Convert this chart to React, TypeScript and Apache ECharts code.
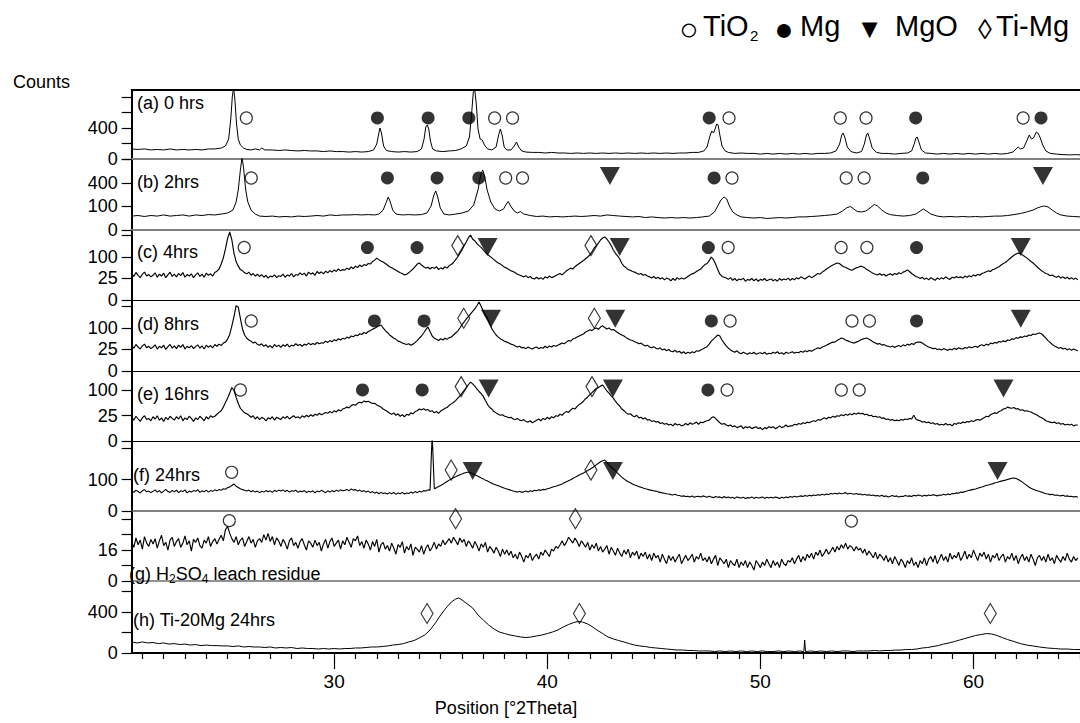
import React, { useEffect, useRef } from "react";
import * as echarts from "echarts";

const FONT = '"Liberation Sans", Arial, Helvetica, sans-serif';
const X_MIN = 20.5;
const X_MAX = 65;
const SCAN_START = 20.5; // first 2theta of the evenly stepped scans
const SCAN_STEP = 0.1;

// panel layout (top, height) a..h
const panelTops = [90, 159, 230, 300, 371, 441, 511, 581];
const panelHeights = [69, 71, 70, 71, 70, 70, 70, 72];
// counts at the top edge of each panel (square-root intensity scale)
const panelMaxCounts = [1980, 912, 265, 272, 192, 494, 82, 1233];
const yTickCounts = [
  [0, 100, 400, 900, 1600],
  [0, 100, 400, 900],
  [0, 25, 100, 225],
  [0, 25, 100, 225],
  [0, 25, 100],
  [0, 100, 400],
  [0, 4, 16, 36, 64],
  [0, 100, 400, 900],
];
const yLabelCounts = [
  [0, 400],
  [0, 100, 400],
  [0, 25, 100],
  [0, 25, 100],
  [0, 25, 100],
  [0, 100],
  [0, 16],
  [0, 400],
];
const xMajorTicks = [30, 40, 50, 60];
const xMinorTicks = [21,22,23,24,25,26,27,28,29,31,32,33,34,35,36,37,38,39,41,42,43,44,45,46,47,48,49,51,52,53,54,55,56,57,58,59,61,62,63,64,65];

const panelLabels = ["(a) 0 hrs", "(b) 2hrs", "(c) 4hrs", "(d) 8hrs", "(e) 16hrs", "(f) 24hrs", "", "(h) Ti-20Mg 24hrs"];

type P = [number, number];

// (a) 0 hrs and (b) 2hrs: [2theta, counts]
const traceA: P[] = [[20.5,42],[20.8,38],[21.1,42],[21.4,34],[21.7,38],[22.0,34],[22.3,42],[22.6,34],[22.9,38],[23.2,34],[23.5,38],[23.8,34],[24.1,42],[24.4,42],[24.7,50],[24.9,70],[25.05,166],[25.15,666],[25.22,1600],[25.28,2100],[25.34,1498],[25.42,510],[25.5,166],[25.6,82],[25.75,50],[25.9,38],[26.1,34],[26.3,42],[26.5,34],[26.6,50],[26.75,34],[27.1,34],[27.4,30],[27.7,34],[28.0,30],[28.3,27],[28.6,30],[28.9,27],[29.2,27],[29.5,23],[29.8,27],[30.1,23],[30.4,23],[30.7,20],[31.0,23],[31.3,20],[31.6,23],[31.85,34],[32.0,94],[32.1,281],[32.15,400],[32.22,281],[32.32,70],[32.45,30],[32.7,23],[33.0,20],[33.3,23],[33.6,20],[33.9,23],[34.1,42],[34.22,166],[34.3,426],[34.37,481],[34.44,375],[34.52,135],[34.62,42],[34.8,27],[35.1,23],[35.4,27],[35.7,30],[35.95,42],[36.2,70],[36.35,201],[36.45,843],[36.53,1868],[36.6,1981],[36.67,1259],[36.75,375],[36.85,166],[36.95,150],[37.05,82],[37.2,42],[37.4,34],[37.6,60],[37.72,240],[37.8,375],[37.88,240],[37.98,60],[38.1,34],[38.3,34],[38.45,70],[38.56,120],[38.66,60],[38.8,27],[39.0,20],[39.3,18],[39.6,18],[39.9,15],[40.2,18],[40.5,15],[40.8,15],[41.1,13],[41.4,15],[41.7,13],[42.0,15],[42.3,13],[42.6,15],[42.9,13],[43.2,15],[43.5,13],[43.8,15],[44.1,13],[44.4,15],[44.7,13],[45.0,15],[45.3,13],[45.6,15],[45.9,13],[46.2,15],[46.5,15],[46.8,18],[47.1,18],[47.35,27],[47.5,60],[47.62,201],[47.72,326],[47.8,281],[47.88,375],[47.95,510],[48.02,481],[48.1,240],[48.2,70],[48.35,27],[48.5,18],[48.8,13],[49.1,15],[49.4,13],[49.7,13],[50.0,10],[50.3,13],[50.6,10],[50.9,13],[51.2,10],[51.5,13],[51.8,10],[52.1,13],[52.4,10],[52.7,13],[53.0,13],[53.3,15],[53.55,27],[53.72,94],[53.82,240],[53.88,281],[53.96,201],[54.08,60],[54.25,23],[54.5,15],[54.75,23],[54.88,94],[54.98,240],[55.04,281],[55.12,184],[55.25,50],[55.45,18],[55.7,13],[56.0,13],[56.3,10],[56.6,13],[56.9,15],[57.1,27],[57.22,94],[57.3,184],[57.36,201],[57.44,120],[57.56,34],[57.75,15],[58.0,13],[58.3,10],[58.6,13],[58.9,10],[59.2,13],[59.5,10],[59.8,13],[60.1,10],[60.4,13],[60.7,10],[61.0,13],[61.3,10],[61.6,13],[61.85,20],[62.0,42],[62.1,60],[62.2,42],[62.35,50],[62.5,135],[62.62,240],[62.72,166],[62.82,184],[62.95,303],[63.02,281],[63.12,201],[63.25,82],[63.4,27],[63.6,13],[63.9,10],[64.2,8],[64.5,7],[64.8,8],[65.0,7]];

const traceB: P[] = [[20.5,35],[20.8,38],[21.1,33],[21.4,38],[21.7,35],[22.0,41],[22.3,35],[22.6,38],[22.9,41],[23.2,35],[23.5,41],[23.8,38],[24.1,43],[24.4,41],[24.7,46],[25.0,52],[25.25,72],[25.4,142],[25.5,290],[25.6,652],[25.68,960],[25.75,696],[25.85,290],[25.95,142],[26.1,72],[26.3,46],[26.5,35],[26.8,33],[27.1,35],[27.4,31],[27.7,33],[28.0,31],[28.3,35],[28.6,33],[28.9,35],[29.2,38],[29.5,35],[29.8,41],[30.1,38],[30.4,41],[30.7,41],[31.0,43],[31.3,41],[31.6,43],[31.9,41],[32.1,46],[32.3,72],[32.45,142],[32.54,197],[32.62,152],[32.75,72],[32.9,46],[33.2,41],[33.5,43],[33.8,41],[34.1,43],[34.35,52],[34.55,104],[34.68,222],[34.77,275],[34.86,197],[34.98,88],[35.15,46],[35.4,41],[35.7,46],[36.0,52],[36.3,65],[36.55,113],[36.75,290],[36.88,548],[36.97,652],[37.06,528],[37.18,290],[37.35,142],[37.55,80],[37.75,65],[37.95,80],[38.08,122],[38.17,147],[38.28,104],[38.45,65],[38.6,52],[38.74,62],[38.9,46],[39.2,38],[39.5,33],[39.8,35],[40.1,31],[40.4,33],[40.7,31],[41.0,33],[41.3,35],[41.6,33],[41.9,35],[42.2,38],[42.5,35],[42.8,41],[43.1,38],[43.4,35],[43.7,33],[44.0,31],[44.3,33],[44.6,28],[44.9,31],[45.2,28],[45.5,26],[45.8,28],[46.1,26],[46.4,28],[46.7,26],[47.0,28],[47.3,31],[47.6,35],[47.85,59],[48.0,104],[48.15,163],[48.3,197],[48.42,174],[48.55,104],[48.7,59],[48.9,41],[49.1,31],[49.4,28],[49.7,26],[50.0,28],[50.3,24],[50.6,26],[50.9,28],[51.2,26],[51.5,28],[51.8,31],[52.1,31],[52.4,33],[52.7,35],[53.0,38],[53.3,41],[53.6,46],[53.85,65],[54.05,88],[54.22,100],[54.38,80],[54.55,62],[54.75,59],[54.95,65],[55.15,88],[55.35,118],[55.5,104],[55.7,72],[55.9,52],[56.1,43],[56.4,38],[56.7,35],[57.0,38],[57.3,46],[57.5,65],[57.65,80],[57.8,65],[58.0,46],[58.3,35],[58.6,31],[58.9,33],[59.2,31],[59.5,33],[59.8,31],[60.1,33],[60.4,31],[60.7,33],[61.0,35],[61.3,35],[61.6,38],[61.9,43],[62.2,49],[62.5,59],[62.8,72],[63.0,88],[63.2,100],[63.35,104],[63.5,96],[63.7,72],[63.9,52],[64.1,41],[64.4,35],[64.7,33],[65.0,31]];

// (c)..(g): counts on an even 0.1 deg step starting at 20.5 deg
const countsC = [
38,30,41,33,27,36,42,31,35,29,
33,40,28,36,31,39,27,34,42,30,
36,29,38,32,41,28,35,31,37,27,
34,40,30,36,28,39,33,37,31,41,
45,52,70,96,142,205,250,196,118,80,
62,50,46,40,37,42,33,38,31,36,
30,35,28,33,26,31,29,34,27,32,
30,36,28,34,31,38,29,35,33,40,
34,39,31,42,36,40,33,44,38,43,
37,45,40,47,42,49,44,52,46,50,
48,55,50,59,53,62,57,66,60,68,
64,72,70,80,86,95,88,82,78,72,
66,60,56,52,48,44,40,38,34,36,
40,46,52,60,70,74,66,60,55,58,
52,58,54,60,50,56,52,60,55,64,
68,76,88,100,118,135,160,182,210,228,
200,190,172,160,150,136,122,112,104,96,
88,80,74,70,64,58,55,50,46,44,
40,36,34,31,29,32,27,30,25,24,
28,24,27,23,29,26,31,27,29,32,
35,38,34,40,46,50,55,52,60,66,
72,78,84,92,100,110,126,146,160,175,
195,208,215,200,182,160,135,118,105,92,
72,62,56,50,48,44,42,39,36,38,
33,35,31,29,26,30,25,28,24,27,
22,26,24,20,25,21,27,23,26,24,
26,30,34,37,39,44,48,52,60,68,
72,84,100,88,70,50,36,30,28,26,
23,27,21,25,20,24,22,26,19,23,
21,25,20,24,19,23,21,25,20,22,
24,20,23,19,25,21,24,22,26,21,
25,22,27,24,29,26,24,28,31,27,
30,34,38,36,42,46,52,56,62,66,
70,74,72,66,60,58,54,50,48,52,
56,58,62,60,56,50,46,42,38,36,
34,38,33,36,31,35,37,33,38,35,
40,37,42,45,49,44,38,34,30,28,
25,28,23,26,22,27,24,21,26,23,
27,24,29,25,23,28,26,30,27,29,
26,31,28,32,29,34,31,36,33,38,
40,43,46,44,50,52,56,60,66,72,
76,84,92,100,108,114,119,116,110,102,
96,88,80,74,66,58,52,46,42,38,
36,32,34,30,28,31,26,29,25,28,
24,27,23,26,22];

const countsD = [
35,28,38,31,26,34,39,29,33,27,
31,37,26,33,29,36,25,32,38,28,
34,27,36,30,38,26,33,29,35,27,
32,37,28,34,26,36,30,35,29,38,
33,39,35,42,45,55,72,110,160,230,
220,150,95,70,58,52,48,42,45,38,
36,40,33,37,30,35,29,38,32,36,
30,37,33,39,31,36,34,40,35,38,
33,39,36,42,37,41,38,44,40,43,
42,48,44,50,46,53,49,56,52,58,
55,62,58,66,63,70,67,75,72,80,
76,84,88,94,98,104,110,114,100,88,
80,70,64,58,54,48,46,42,40,38,
40,36,39,44,50,58,66,78,92,105,
84,66,58,54,50,56,52,58,54,60,
62,70,78,86,100,116,130,146,160,176,
192,208,230,257,225,195,170,146,120,96,
82,70,62,56,52,48,45,42,39,37,
34,31,33,29,30,27,31,28,26,29,
31,27,30,28,33,29,34,31,35,33,
36,39,42,40,45,50,48,55,58,62,
66,70,74,82,86,92,88,96,100,94,
104,110,102,95,100,91,93,86,80,74,
70,66,60,56,52,50,46,44,40,42,
37,34,36,31,29,32,28,26,29,24,
26,22,25,21,20,23,19,21,17,20,
16,19,17,20,18,22,21,24,26,29,
32,39,48,55,62,70,66,52,42,34,
28,24,21,19,22,18,16,19,17,15,
18,16,19,15,17,18,16,19,15,17,
16,19,17,20,16,18,15,19,17,18,
20,17,19,18,21,19,22,20,23,21,
24,26,29,27,31,33,36,39,42,45,
45,50,54,59,56,52,49,46,44,42,
45,48,52,55,57,59,54,50,45,42,
39,41,36,38,34,33,31,34,30,33,
35,32,37,34,39,36,41,38,44,45,
45,42,38,34,31,29,27,28,25,26,
24,27,25,23,26,24,28,25,29,27,
26,30,28,32,29,31,33,30,35,37,
34,39,36,42,40,44,42,47,45,49,
46,52,50,56,54,60,58,63,61,66,
64,70,68,74,72,76,78,74,66,58,
50,44,38,34,31,28,30,26,28,24,
27,23,26,24,22];

const countsE = [
22,17,24,19,15,21,25,18,20,16,
23,19,25,17,21,15,22,18,24,20,
17,23,19,25,16,21,18,24,20,15,
21,18,24,20,16,23,19,25,22,24,
28,32,36,45,58,72,90,112,100,75,
55,42,36,31,29,26,22,25,19,23,
18,22,20,16,21,19,23,17,22,20,
18,23,20,24,19,22,25,21,23,20,
25,22,26,23,27,24,28,26,30,27,
29,32,30,34,31,36,33,38,35,40,
42,45,43,49,52,50,56,59,57,63,
60,62,58,55,56,51,48,45,40,37,
34,30,28,31,26,29,24,27,23,28,
26,31,29,34,36,40,38,41,37,39,
34,36,31,34,30,35,38,42,44,50,
54,58,64,72,80,90,100,112,124,136,
128,118,106,96,88,78,64,52,44,40,
34,31,28,26,27,24,23,21,22,19,
18,20,17,16,18,15,14,16,13,15,
17,19,16,20,18,22,19,23,21,25,
24,28,26,31,34,32,38,42,40,47,
52,56,62,70,76,84,92,100,108,112,
118,123,110,98,90,80,72,62,54,48,
40,36,31,28,29,25,23,26,21,22,
19,21,17,18,15,16,14,15,12,13,
11,12,10,11,9,12,10,11,9,10,
12,10,13,11,12,14,11,14,13,15,
16,17,21,23,20,16,13,11,12,10,
9,10,8,9,7,8,9,6,8,7,
8,6,7,8,6,7,5,7,6,8,
7,8,6,7,9,7,8,10,8,9,
9,11,10,12,11,13,12,14,13,15,
16,15,18,17,19,21,19,22,21,24,
22,25,24,27,25,28,26,29,27,30,
28,31,29,30,27,28,25,26,23,24,
22,23,20,21,18,19,17,18,16,17,
16,18,17,19,18,20,19,26,19,17,
16,14,15,13,14,12,13,11,12,10,
11,10,12,10,11,9,12,11,13,12,
14,13,15,14,16,15,17,18,17,19,
21,24,23,27,29,31,30,34,36,40,
41,45,43,42,44,40,41,37,38,35,
36,34,33,30,28,26,23,21,19,16,
15,14,13,14,12,13,11,12,10,11,
10,11,9,10,10];

const countsF = [
42,35,44,38,33,41,46,37,40,34,
39,45,36,42,33,40,47,38,35,43,
37,44,34,41,38,45,33,40,36,42,
39,46,35,41,37,44,36,42,39,45,
41,47,43,50,48,55,58,66,73,62,
56,50,46,43,40,44,37,42,36,40,
34,39,36,42,37,41,35,43,38,44,
40,45,38,43,36,41,39,44,35,40,
37,42,34,39,36,41,33,40,37,43,
38,34,41,36,42,37,44,39,45,41,
43,47,41,49,44,46,40,44,38,42,
36,40,34,38,32,36,30,35,31,33,
29,34,30,35,28,33,30,35,29,33,
31,36,32,38,34,39,36,42,40,45,
44,600,50,55,60,66,72,80,88,96,
104,112,118,125,132,138,145,150,153,148,
140,132,126,118,110,104,96,90,84,78,
72,68,64,60,56,52,49,46,43,40,
38,36,39,35,37,40,36,41,38,43,
41,45,43,47,46,50,52,56,59,62,
66,70,74,80,86,92,98,106,114,122,
130,138,146,155,165,175,186,200,215,230,
245,255,262,240,215,195,178,162,145,130,
116,104,94,86,80,74,68,64,60,57,
53,50,48,45,43,41,40,37,35,33,
32,30,29,27,26,28,25,24,22,23,
21,22,20,23,19,21,22,20,23,21,
19,22,20,18,21,19,20,17,21,18,
20,17,19,16,20,18,17,19,16,18,
17,20,16,19,17,18,20,16,19,17,
19,17,20,18,16,19,17,20,18,21,
19,22,20,21,23,21,24,22,25,23,
26,24,27,25,28,26,29,27,31,29,
32,29,33,30,31,34,29,32,30,28,
31,28,29,26,28,25,27,24,26,23,
24,22,25,21,23,20,22,24,21,23,
20,22,21,24,22,23,21,25,23,26,
24,22,25,23,26,24,27,25,23,26,
25,28,26,29,27,31,30,33,32,36,
35,38,40,43,45,47,49,52,56,58,
62,66,68,72,74,80,82,86,90,93,
96,100,104,108,110,106,100,92,84,74,
66,58,52,48,44,41,38,36,33,30,
29,27,28,25,26,24,23,25,22,23,
21,22,20,21,19];

const countsG = [
26,19,31,22,28,17,33,24,20,29,
23,30,18,27,35,21,25,16,28,32,
20,26,30,19,24,34,22,27,15,29,
25,31,21,18,28,24,33,20,26,30,
23,29,35,27,44,50,38,30,25,33,
22,28,31,20,26,33,24,29,19,27,
30,25,36,28,38,26,33,22,31,27,
20,29,24,17,27,31,21,25,18,26,
30,22,16,27,24,19,28,21,25,15,
23,29,18,26,31,20,24,28,17,27,
22,32,25,19,30,27,34,21,26,18,
28,23,16,26,20,29,14,22,25,17,
21,15,24,18,12,22,19,26,13,20,
16,23,11,19,17,14,21,12,18,22,
15,19,25,17,23,20,28,22,26,30,
24,32,27,22,31,25,29,20,27,23,
18,26,21,15,23,19,25,14,20,17,
13,19,15,10,17,12,16,11,15,9,
12,8,14,10,6,11,9,13,7,10,
12,8,14,11,16,13,10,17,15,20,
18,22,27,21,25,32,28,24,31,26,
20,27,23,19,25,16,22,18,24,15,
20,14,17,21,12,19,15,11,18,13,
10,16,12,17,9,14,11,15,8,13,
10,14,8,12,7,13,9,11,6,12,
8,5,11,7,10,6,9,12,5,8,
11,7,9,12,6,10,8,13,7,9,
6,10,5,8,11,4,9,7,5,8,
3,7,5,4,8,3,6,4,7,3,
6,4,2,7,5,3,6,4,8,5,
3,7,4,6,3,8,5,4,7,6,
9,5,8,11,6,10,7,12,9,13,
8,14,11,16,10,13,17,12,15,19,
14,20,16,22,18,24,17,21,19,15,
20,16,18,13,17,11,15,12,9,14,
8,12,10,7,11,6,9,5,10,7,
4,8,6,3,7,5,9,4,6,3,
7,5,9,4,8,10,6,11,5,8,
12,7,10,6,13,8,11,9,14,7,
10,15,8,12,9,16,11,7,13,10,
14,8,12,6,11,9,13,7,10,12,
6,10,8,13,7,11,5,9,12,7,
10,6,12,8,4,9,11,7,10,6,
12,7,9,5,11,8,6,10,7,13,
8,6,10,7,9];

// (h) Ti-20Mg 24hrs: [2theta, counts]
const traceH: P[] = [[20.5,29],[20.75,24],[21.0,29],[21.25,24],[21.5,26],[21.75,21],[22.0,24],[22.25,19],[22.5,21],[22.75,17],[23.0,19],[23.25,15],[23.5,17],[23.75,13],[24.0,15],[24.25,13],[24.5,13],[24.75,12],[25.0,12],[25.25,10],[25.5,12],[25.75,8.6],[26.0,10],[26.25,8.6],[26.5,8.6],[26.75,7.2],[27.0,8.6],[27.25,6],[27.5,7.2],[27.75,6],[28.0,7.2],[28.25,4.8],[28.5,6],[28.75,4.8],[29.0,4.8],[29.25,3.8],[29.5,4.8],[29.75,3.8],[30.0,4.8],[30.25,3.8],[30.5,4.8],[30.75,4.8],[31.0,6],[31.25,6],[31.5,7.2],[31.75,8.6],[32.0,8.6],[32.25,10],[32.5,11.7],[32.75,15],[33.0,17],[33.25,21],[33.5,29],[33.75,37],[34.0,54],[34.25,77],[34.5,126],[34.75,214],[35.0,344],[35.25,482],[35.5,619],[35.7,694],[35.85,720],[36.0,669],[36.25,571],[36.5,482],[36.75,344],[37.0,259],[37.25,187],[37.5,137],[37.75,105],[38.0,90],[38.25,77],[38.5,69],[38.75,61],[39.0,57],[39.25,61],[39.5,69],[39.75,77],[40.0,90],[40.25,105],[40.5,126],[40.75,161],[41.0,193],[41.25,221],[41.45,236],[41.65,229],[41.9,200],[42.1,167],[42.33,126],[42.6,90],[42.85,61],[43.1,47],[43.35,37],[43.6,29],[43.85,21],[44.1,15],[44.35,11.7],[44.6,10],[44.85,7.2],[45.1,6],[45.35,4.8],[45.6,3.8],[45.85,2.9],[46.1,2.1],[46.35,2.1],[46.6,1.5],[46.85,1.5],[47.1,1],[47.35,1],[47.6,1],[47.85,0.5],[48.1,1],[48.35,0.5],[48.6,1],[48.85,0.5],[49.1,1],[49.35,0.5],[49.6,1],[49.85,0.5],[50.1,1],[50.35,0.5],[50.6,0.5],[50.85,1],[51.1,0.5],[51.35,1],[51.6,0.5],[51.85,1],[52.04,0.5],[52.08,40],[52.12,0.5],[52.35,1],[52.6,0.5],[52.85,1],[53.1,0.5],[53.35,1],[53.6,0.5],[53.85,1],[54.1,1],[54.35,0.5],[54.6,1],[54.85,1],[55.1,1],[55.35,1.5],[55.6,1],[55.85,1.5],[56.1,1.5],[56.35,2.1],[56.6,2.1],[56.85,2.9],[57.1,2.9],[57.35,3.8],[57.6,6],[57.85,7.2],[58.1,10],[58.35,13],[58.6,19],[58.85,24],[59.1,31],[59.35,40],[59.6,50],[59.85,61],[60.1,73],[60.36,81],[60.6,90],[60.85,86],[61.1,73],[61.35,57],[61.6,43],[61.91,31],[62.2,21],[62.5,15],[62.8,11.7],[63.1,8.6],[63.46,6],[63.8,4.8],[64.1,3.8],[64.4,3.8],[64.7,2.9],[65.0,2.9]];

// phase markers per panel: [2theta, counts]
const tio2Peaks: P[][] = [
  [[25.88,700],[37.53,700],[38.37,700],[48.53,700],[53.75,700],[54.96,700],[62.33,700]],
  [[26.11,490],[38.05,490],[38.84,490],[48.67,490],[54.03,490],[54.87,490]],
  [[25.78,149],[48.49,149],[53.79,149],[55.0,149]],
  [[26.11,135],[48.58,135],[54.3,135],[55.12,135]],
  [[25.6,102],[48.44,102],[53.8,102],[54.64,102]],
  [[25.19,151]],
  [[25.08,61],[54.27,60]],
  [],
];
const mgPeaks: P[][] = [
  [[32.03,700],[34.41,700],[36.32,700],[47.6,700],[57.29,700],[63.17,700]],
  [[32.5,490],[34.83,490],[36.79,490],[47.83,490],[57.62,490]],
  [[31.56,149],[33.89,149],[47.56,149],[57.33,149]],
  [[31.89,135],[34.22,135],[47.7,135],[57.33,135]],
  [[31.33,102],[34.13,102],[47.54,102]],
  [],
  [],
  [],
];
const mgoPeaks: P[][] = [
  [],
  [[42.94,528],[63.26,528]],
  [[37.2,152],[43.4,152],[62.22,152]],
  [[37.36,148],[43.19,148],[62.22,148]],
  [[37.25,108],[43.08,108],[61.41,108]],
  [[36.5,161],[43.08,161],[61.13,161]],
  [],
  [],
];
const timgPeaks: P[][] = [
  [],
  [],
  [[35.8,160],[42.05,160]],
  [[36.08,150],[42.21,150]],
  [[35.96,116],[42.1,116]],
  [[35.49,169],[42.05,169]],
  [[35.7,65],[41.32,65]],
  [[34.36,371],[41.51,371],[60.79,371]],
];

const separatorColors = ["#808080", "#808080", "#000", "#000", "#000", "#555", "#6e6e6e"];
const separatorWidths = [2, 2, 1.2, 1.2, 1.2, 1.5, 1.5];
const traceWidths = [1, 1, 1.15, 1.15, 1.15, 1.1, 1.15, 1];

const stepped = (counts: number[]): P[] =>
  counts.map((c, i) => [Math.round((SCAN_START + SCAN_STEP * i) * 100) / 100, c]);

export default function App() {
  const ref = useRef<HTMLDivElement>(null);
  useEffect(() => {
    if (!ref.current) return;
    const chart = echarts.init(ref.current, undefined, { renderer: "svg" });
    const traces: P[][] = [traceA, traceB, stepped(countsC), stepped(countsD), stepped(countsE), stepped(countsF), stepped(countsG), traceH];
    const sq = (arr: P[]) => arr.map(([x, c]) => [x, Math.sqrt(c)]);
    const grids: any[] = [];
    const xAxes: any[] = [];
    const yAxes: any[] = [];
    const series: any[] = [];
    for (let i = 0; i < 8; i++) {
      grids.push({ left: 131.7, right: -6.2, top: panelTops[i], height: panelHeights[i] });
      const last = i === 7;
      xAxes.push({
        gridIndex: i, type: "value", min: X_MIN, max: X_MAX, position: "bottom",
        axisLine: { show: true, onZero: false, lineStyle: { color: last ? "#000" : separatorColors[i], width: last ? 2 : separatorWidths[i] } },
        axisTick: last ? { show: true, customValues: xMajorTicks, length: 16, lineStyle: { color: "#000", width: 1.2 } } : { show: false },
        axisLabel: last ? { show: true, customValues: xMajorTicks, fontSize: 19, fontFamily: FONT, color: "#000", margin: 19 } : { show: false },
        splitLine: { show: false },
      });
      yAxes.push({
        gridIndex: i, type: "value", min: 0, max: Math.sqrt(panelMaxCounts[i]),
        axisLine: { show: true, onZero: false, lineStyle: { color: "#000", width: 2 } },
        axisTick: { show: true, customValues: yTickCounts[i].map(Math.sqrt), length: 10, lineStyle: { color: "#000", width: 1.2 } },
        axisLabel: { show: true, customValues: yLabelCounts[i].map(Math.sqrt), fontSize: 18, fontFamily: FONT, color: "#000", margin: 14,
          formatter: (v: number) => String(Math.round(v * v)) },
        splitLine: { show: false },
      });
    }
    xAxes.push({
      gridIndex: 7, type: "value", min: X_MIN, max: X_MAX, position: "bottom",
      axisLine: { show: false }, axisLabel: { show: false }, splitLine: { show: false },
      axisTick: { show: true, customValues: xMinorTicks, length: 6, lineStyle: { color: "#000", width: 1.2 } },
    });
    xAxes.push({
      gridIndex: 0, type: "value", min: X_MIN, max: X_MAX, position: "top",
      axisLine: { show: true, onZero: false, lineStyle: { color: "#000", width: 2 } },
      axisTick: { show: false }, axisLabel: { show: false }, splitLine: { show: false },
    });

    for (let i = 0; i < 8; i++) {
      series.push({
        type: "line", xAxisIndex: i, yAxisIndex: i, data: sq(traces[i]), showSymbol: false, symbol: "none",
        lineStyle: { color: "#000", width: traceWidths[i] }, clip: true, z: 2, silent: true,
      });
      const common = { type: "scatter", xAxisIndex: i, yAxisIndex: i, z: 5, silent: true, clip: false };
      if (tio2Peaks[i].length) series.push({ ...common, data: sq(tio2Peaks[i]), symbol: "circle", symbolSize: 12,
        itemStyle: { color: "rgba(0,0,0,0)", borderColor: "#000", borderWidth: 1.2 } });
      if (mgPeaks[i].length) series.push({ ...common, data: sq(mgPeaks[i]), symbol: "circle", symbolSize: 13,
        itemStyle: { color: "#000" } });
      if (mgoPeaks[i].length) series.push({ ...common, data: sq(mgoPeaks[i]), symbol: "triangle", symbolRotate: 180, symbolSize: [20, 18],
        itemStyle: { color: "#000" } });
      if (timgPeaks[i].length) series.push({ ...common, data: sq(timgPeaks[i]), symbol: "diamond", symbolSize: [12, 20],
        itemStyle: { color: "rgba(0,0,0,0)", borderColor: "#000", borderWidth: 1.2 } });
    }

    const txt = (text: string, x: number, y: number, fontSize: number, align = "left") => ({
      type: "text", x, y, z: 10,
      style: { text, fontSize, fontFamily: FONT, fill: "#000", align, verticalAlign: "middle" },
    });
    const labelX = [137, 137, 137, 137, 137, 133, 129, 133];
    const labelY = [102.5, 181.5, 251.5, 323.5, 394, 475, 573.5, 619.5];
    const graphics: any[] = [];
    for (let i = 0; i < 8; i++) {
      if (i !== 6) graphics.push(txt(panelLabels[i], labelX[i], labelY[i], 18));
    }
    // (g) H2SO4 leach residue, with subscripts
    graphics.push(txt("(g) H", 129, 573.5, 18));
    graphics.push(txt("2", 169, 578.5, 12));
    graphics.push(txt("SO", 175.7, 573.5, 18));
    graphics.push(txt("4", 201.7, 578.5, 12));
    graphics.push(txt(" leach residue", 208.4, 573.5, 18));

    graphics.push(txt("Counts", 13, 81.5, 18));
    graphics.push(txt("Position [°2Theta]", 506, 708, 18, "center"));

    // legend
    graphics.push(txt("○", 689, 29, 32, "center"));
    graphics.push(txt("TiO", 703, 26, 29));
    graphics.push(txt("2", 750, 35, 15));
    graphics.push(txt("●", 784, 29, 32, "center"));
    graphics.push(txt("Mg", 800, 26, 29));
    graphics.push(txt("▼", 869.5, 29, 27, "center"));
    graphics.push(txt("MgO", 895, 26, 29));
    graphics.push(txt("◊", 985, 29, 28, "center"));
    graphics.push(txt("Ti-Mg", 996, 26, 29));

    chart.setOption({
      animation: false,
      backgroundColor: "#fff",
      grid: grids,
      xAxis: xAxes,
      yAxis: yAxes,
      series,
      graphic: graphics,
    });
    return () => chart.dispose();
  }, []);
  return <div ref={ref} style={{ position: "absolute", left: 0, top: 0, width: 1080, height: 723 }} />;
}
